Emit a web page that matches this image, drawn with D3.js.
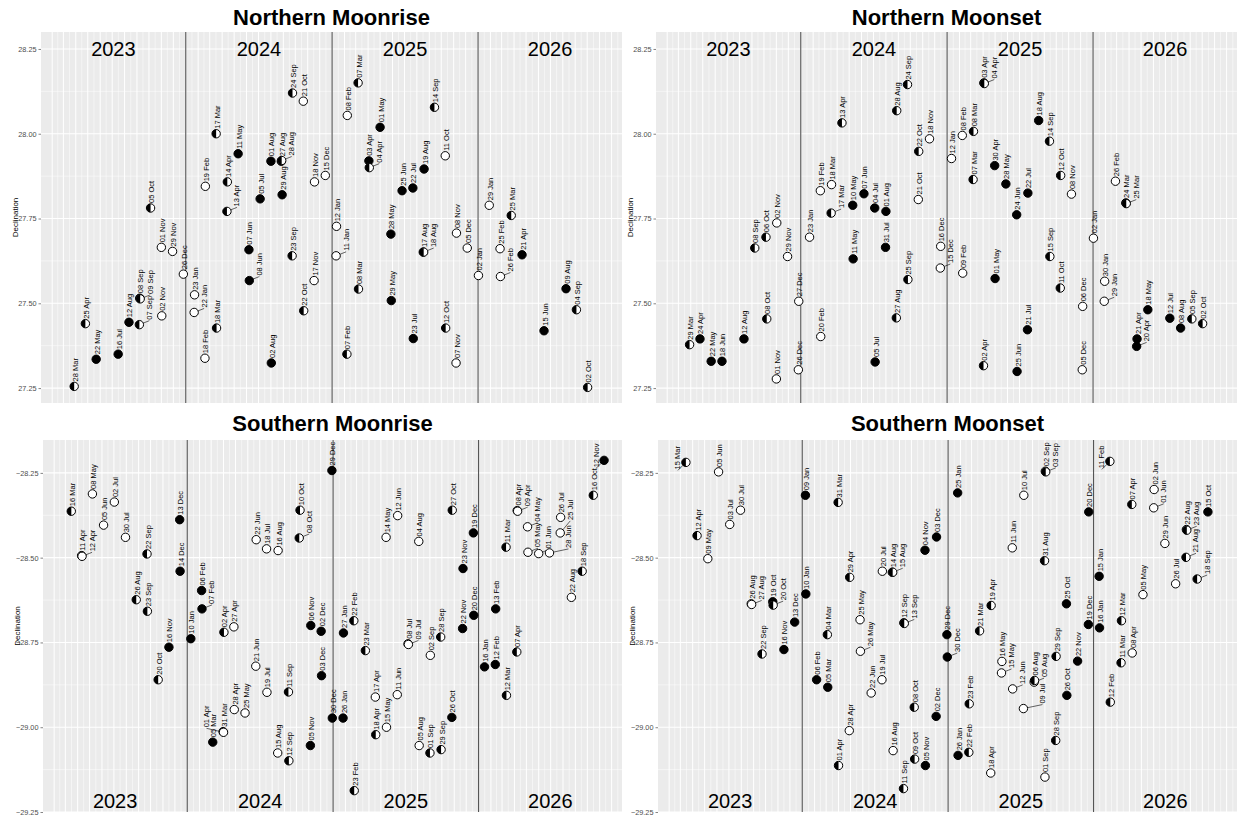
<!DOCTYPE html>
<html>
<head>
<meta charset="utf-8">
<script src="https://cdn.jsdelivr.net/npm/d3@7"></script>
<style>
body { margin: 0; background: #fff; font-family: "Liberation Sans", Arial, sans-serif; }
</style>
</head>
<body>
<svg id="chart" width="1241" height="818"></svg>
<script>
// ---- data ----
// phase codes: b = filled, w = open, h = half
var nRiseDates = ['2023-03-28','2023-04-25','2023-05-22','2023-07-16','2023-08-12','2023-09-07','2023-09-08','2023-09-09','2023-10-05','2023-11-01','2023-11-02','2023-11-29','2023-12-26',
  '2024-01-22','2024-01-23','2024-02-18','2024-02-19','2024-03-17','2024-03-18','2024-04-13','2024-04-14','2024-05-11','2024-06-07','2024-06-08','2024-07-05','2024-08-01','2024-08-02','2024-08-27','2024-08-28','2024-08-29','2024-09-23','2024-09-24','2024-10-21','2024-10-22','2024-11-17','2024-11-18','2024-12-15',
  '2025-01-11','2025-01-12','2025-02-07','2025-02-08','2025-03-07','2025-03-08','2025-04-03','2025-04-04','2025-05-01','2025-05-28','2025-05-29','2025-06-25','2025-07-22','2025-07-23','2025-08-17','2025-08-18','2025-08-19','2025-09-14','2025-10-11','2025-10-12','2025-11-07','2025-11-08','2025-12-05',
  '2026-01-02','2026-01-29','2026-02-25','2026-02-26','2026-03-25','2026-04-21','2026-06-15','2026-08-09','2026-09-04','2026-10-02'];
var nRiseDec = [27.255,27.44,27.335,27.35,27.444,27.437,27.515,27.513,27.781,27.665,27.463,27.653,27.586,
  27.473,27.525,27.338,27.845,28.00,27.427,27.771,27.858,27.941,27.658,27.567,27.808,27.919,27.324,27.919,27.921,27.82,27.64,28.12,28.096,27.478,27.567,27.858,27.877,
  27.64,27.727,27.35,28.054,28.15,27.542,27.92,27.90,28.019,27.704,27.508,27.832,27.84,27.396,27.651,27.651,27.896,28.078,27.935,27.427,27.324,27.707,27.663,
  27.582,27.789,27.661,27.579,27.759,27.643,27.419,27.543,27.481,27.252];
var nRisePhase = ['h','h','b','b','b','h','b','h','h','w','w','w','w',
  'w','w','w','w','h','h','h','h','b','b','b','b','b','b','b','h','b','h','h','w','h','w','w','w',
  'w','w','h','w','h','h','b','h','b','b','b','b','b','b','h','h','b','h','w','h','w','w','w',
  'w','w','w','w','h','b','b','b','h','h'];

var nSetDates = ['2023-03-29','2023-04-24','2023-05-22','2023-06-18','2023-08-12','2023-09-08','2023-10-06','2023-10-08','2023-11-01','2023-11-02','2023-11-29','2023-12-26','2023-12-27',
  '2024-01-23','2024-02-19','2024-02-20','2024-03-17','2024-03-18','2024-04-13','2024-05-10','2024-05-11','2024-06-07','2024-07-04','2024-07-05','2024-07-31','2024-08-01','2024-08-27','2024-08-28','2024-09-24','2024-09-25','2024-10-21','2024-10-22','2024-11-18','2024-12-15','2024-12-16',
  '2025-01-12','2025-02-08','2025-02-09','2025-03-07','2025-03-08','2025-04-02','2025-04-03','2025-04-04','2025-04-30','2025-05-01','2025-05-28','2025-06-24','2025-06-25','2025-07-21','2025-07-22','2025-08-18','2025-09-14','2025-09-15','2025-10-11','2025-10-12','2025-11-08','2025-12-05','2025-12-06',
  '2026-01-02','2026-01-29','2026-01-30','2026-02-26','2026-03-24','2026-03-25','2026-04-20','2026-04-21','2026-05-18','2026-07-12','2026-08-08','2026-09-05','2026-10-02'];
var nSetDec = [27.378,27.395,27.329,27.329,27.395,27.663,27.695,27.454,27.277,27.737,27.638,27.304,27.506,
  27.695,27.832,27.402,27.766,27.85,28.032,27.789,27.631,27.823,27.781,27.327,27.665,27.771,27.457,28.068,28.145,27.57,27.806,27.948,27.985,27.604,27.668,
  27.927,27.995,27.589,27.865,28.007,27.316,28.15,28.148,27.906,27.573,27.852,27.761,27.299,27.422,27.825,28.039,27.978,27.638,27.545,27.877,27.822,27.304,27.491,
  27.692,27.506,27.565,27.86,27.796,27.794,27.373,27.395,27.481,27.456,27.427,27.454,27.44];
var nSetPhase = ['h','b','b','b','b','h','h','h','w','w','w','w','w',
  'w','w','w','h','w','h','b','b','b','b','b','b','b','h','h','h','h','w','h','w','w','w',
  'w','w','w','h','h','h','b','h','b','b','b','b','b','b','b','b','h','h','h','h','w','w','w',
  'w','w','w','w','b','h','b','b','b','b','b','h','h'];

var sRiseDates = ['2023-03-16','2023-04-11','2023-04-12','2023-05-08','2023-06-05','2023-07-02','2023-07-30','2023-08-26','2023-09-22','2023-09-23','2023-10-20','2023-11-16','2023-12-13','2023-12-14',
  '2024-01-10','2024-02-06','2024-02-07','2024-03-05','2024-03-31','2024-04-01','2024-04-02','2024-04-27','2024-04-28','2024-05-25','2024-06-21','2024-06-22','2024-07-18','2024-07-19','2024-08-15','2024-08-16','2024-09-11','2024-09-12','2024-10-08','2024-10-10','2024-11-05','2024-11-06','2024-12-02','2024-12-03','2024-12-29','2024-12-30',
  '2025-01-26','2025-01-27','2025-02-22','2025-02-23','2025-03-23','2025-04-17','2025-04-18','2025-05-14','2025-05-15','2025-06-11','2025-06-12','2025-07-08','2025-07-09','2025-08-04','2025-08-05','2025-09-01','2025-09-02','2025-09-28','2025-09-29','2025-10-26','2025-10-27','2025-11-22','2025-11-23','2025-12-19','2025-12-20',
  '2026-01-16','2026-02-12','2026-02-13','2026-03-11','2026-03-12','2026-04-07','2026-04-08','2026-04-09','2026-05-04','2026-05-05','2026-06-01','2026-06-28','2026-07-25','2026-07-26','2026-08-22','2026-09-18','2026-10-16','2026-11-12'];
var sRiseDec = [-28.363,-28.494,-28.496,-28.312,-28.404,-28.336,-28.44,-28.624,-28.489,-28.658,-28.86,-28.764,-28.388,-28.54,
  -28.739,-28.597,-28.651,-29.044,-29.013,-29.015,-28.72,-28.704,-28.948,-28.958,-28.82,-28.447,-28.474,-28.897,-29.076,-28.479,-28.896,-29.099,-28.442,-28.36,-29.054,-28.70,-28.717,-28.848,-28.243,-28.973,
  -28.973,-28.722,-28.686,-29.187,-28.774,-28.911,-29.022,-28.44,-29.0,-28.904,-28.376,-28.754,-28.756,-28.452,-29.054,-29.076,-28.788,-28.734,-29.066,-28.971,-28.36,-28.709,-28.532,-28.427,-28.67,
  -28.822,-28.815,-28.651,-28.469,-28.906,-28.778,-28.361,-28.363,-28.409,-28.484,-28.488,-28.486,-28.427,-28.381,-28.617,-28.54,-28.316,-28.213];
var sRisePhase = ['h','h','w','w','w','w','w','h','h','h','h','b','b','b',
  'b','b','b','b','h','w','h','w','w','w','w','w','w','w','w','w','h','h','h','h','b','b','b','b','b','b',
  'b','b','h','h','h','w','h','w','w','w','w','w','w','w','w','h','w','h','h','b','h','b','b','b','b',
  'b','b','b','h','h','h','w','w','w','w','w','w','w','w','w','h','h','b'];

var sSetDates = ['2023-03-15','2023-04-12','2023-05-09','2023-06-05','2023-07-03','2023-07-30','2023-08-26','2023-08-27','2023-09-22','2023-10-19','2023-10-20','2023-11-16','2023-12-13',
  '2024-01-09','2024-01-10','2024-02-06','2024-03-04','2024-03-05','2024-03-31','2024-04-01','2024-04-28','2024-04-29','2024-05-25','2024-05-26','2024-06-22','2024-07-19','2024-07-20','2024-08-14','2024-08-15','2024-08-16','2024-09-11','2024-09-12','2024-09-13','2024-10-08','2024-10-09','2024-11-04','2024-11-05','2024-12-02','2024-12-03','2024-12-29','2024-12-30',
  '2025-01-25','2025-01-26','2025-02-22','2025-02-23','2025-03-21','2025-04-18','2025-04-19','2025-05-15','2025-05-16','2025-06-11','2025-06-12','2025-07-09','2025-07-10','2025-08-05','2025-08-06','2025-08-31','2025-09-01','2025-09-02','2025-09-03','2025-09-28','2025-09-29','2025-10-25','2025-10-26','2025-11-22','2025-12-19','2025-12-20',
  '2026-01-15','2026-01-16','2026-02-11','2026-02-12','2026-03-11','2026-03-12','2026-04-07','2026-04-08','2026-05-05','2026-06-01','2026-06-02','2026-06-29','2026-07-26','2026-08-21','2026-08-22','2026-08-23','2026-09-18','2026-10-15'];
var sSetDec = [-28.219,-28.435,-28.503,-28.247,-28.402,-28.36,-28.636,-28.638,-28.784,-28.63,-28.64,-28.771,-28.69,
  -28.316,-28.607,-28.86,-28.727,-28.882,-28.337,-29.113,-29.01,-28.558,-28.683,-28.776,-28.899,-28.86,-28.54,-28.543,-28.543,-29.069,-29.181,-28.692,-28.694,-28.941,-29.094,-28.478,-29.113,-28.968,-28.439,-28.727,-28.793,
  -28.309,-29.083,-29.074,-28.931,-28.716,-29.135,-28.641,-28.84,-28.806,-28.471,-28.887,-28.945,-28.316,-28.867,-28.862,-28.509,-29.147,-28.245,-28.247,-29.039,-28.791,-28.636,-28.906,-28.805,-28.697,-28.365,
  -28.555,-28.707,-28.216,-28.926,-28.81,-28.686,-28.343,-28.781,-28.609,-28.353,-28.299,-28.458,-28.577,-28.499,-28.417,-28.419,-28.563,-28.365];
var sSetPhase = ['h','h','w','w','w','w','w','w','h','b','h','b','b',
  'b','b','b','h','b','h','h','w','h','w','w','w','w','w','w','h','w','h','h','h','h','h','b','b','b','b','b','b',
  'b','b','h','h','h','w','h','w','w','w','w','w','w','w','h','h','w','w','h','h','h','b','b','b','b','b',
  'b','b','h','h','h','h','h','w','w','w','w','w','w','h','w','h','h','b'];

var years = [2023, 2024, 2025, 2026];
var northTicks = [27.25, 27.50, 27.75, 28.00, 28.25];
var southTicks = [-29.25, -29.00, -28.75, -28.50, -28.25];

// ---- layout ----
var svg = d3.select('#chart');
var parse = d3.timeParse('%Y-%m-%d');
var fmtLabel = d3.timeFormat('%d %b');
var xDomain = [new Date(2023, 0, 4), new Date(2026, 11, 27)];

var panels = [
  {title: 'Northern Moonrise', dates: nRiseDates, dec: nRiseDec, phase: nRisePhase, ticks: northTicks,
   x0: 41, x1: 622, y0: 32, y1: 403, yDomain: [27.206, 28.30], top: true},
  {title: 'Northern Moonset', dates: nSetDates, dec: nSetDec, phase: nSetPhase, ticks: northTicks,
   x0: 656, x1: 1237, y0: 32, y1: 403, yDomain: [27.206, 28.30], top: true},
  {title: 'Southern Moonrise', dates: sRiseDates, dec: sRiseDec, phase: sRisePhase, ticks: southTicks,
   x0: 43, x1: 622, y0: 440, y1: 812, yDomain: [-29.25, -28.153], top: false},
  {title: 'Southern Moonset', dates: sSetDates, dec: sSetDec, phase: sSetPhase, ticks: southTicks,
   x0: 658, x1: 1237, y0: 440, y1: 812, yDomain: [-29.25, -28.153], top: false}
];

var R = 4.2;

panels.forEach(function(p) {
  var x = d3.scaleTime().domain(xDomain).range([p.x0, p.x1]);
  var y = d3.scaleLinear().domain(p.yDomain).range([p.y1, p.y0]);
  var g = svg.append('g');

  // background
  g.append('rect').attr('x', p.x0).attr('y', p.y0)
    .attr('width', p.x1 - p.x0).attr('height', p.y1 - p.y0).attr('fill', '#EBEBEB');

  // grid: months (major) and mid-months (minor)
  var months = d3.timeMonth.range(xDomain[0], xDomain[1]);
  months.forEach(function(m) {
    var mid = new Date(m.getTime() + (d3.timeMonth.offset(m, 1) - m) / 2);
    [[m, 1], [mid, 0.5]].forEach(function(v) {
      var xx = x(v[0]);
      if (xx <= p.x0 || xx >= p.x1) return;
      g.append('line').attr('x1', xx).attr('x2', xx).attr('y1', p.y0).attr('y2', p.y1)
        .attr('stroke', '#fff').attr('stroke-width', v[1]);
    });
  });
  p.ticks.forEach(function(t, i) {
    g.append('line').attr('x1', p.x0).attr('x2', p.x1).attr('y1', y(t)).attr('y2', y(t))
      .attr('stroke', '#fff').attr('stroke-width', 1.1);
    if (i < p.ticks.length - 1) {
      var mt = (t + p.ticks[i + 1]) / 2;
      g.append('line').attr('x1', p.x0).attr('x2', p.x1).attr('y1', y(mt)).attr('y2', y(mt))
        .attr('stroke', '#fff').attr('stroke-width', 0.5);
    }
  });

  // y axis
  var yAxis = d3.axisLeft(y).tickValues(p.ticks).tickFormat(d3.format('.2f')).tickSize(2.5).tickPadding(2);
  var ax = g.append('g').attr('transform', 'translate(' + p.x0 + ',0)').call(yAxis);
  ax.select('.domain').remove();
  ax.selectAll('line').attr('stroke', '#333').attr('stroke-width', 0.6);
  ax.selectAll('text').attr('fill', '#4d4d4d').style('font-size', '7.3px')
    .style('font-family', '"Liberation Sans", Arial, sans-serif');

  g.append('text')
    .attr('transform', 'translate(' + (p.x0 - 26) + ',' + ((p.y0 + p.y1) / 2) + ') rotate(-90)')
    .attr('text-anchor', 'middle').attr('dominant-baseline', 'central')
    .style('font-size', '8px').attr('fill', '#000').text('Declination');

  // title
  g.append('text').attr('x', (p.x0 + p.x1) / 2).attr('y', p.top ? 25 : 431)
    .attr('text-anchor', 'middle').style('font-size', '22px').style('font-weight', 'bold')
    .text(p.title);

  // year separators and labels
  years.forEach(function(yr, i) {
    var a = x(new Date(yr, 0, 1)), b = x(new Date(yr + 1, 0, 1));
    var cx = (Math.max(a, p.x0) + Math.min(b, p.x1)) / 2;
    g.append('text').attr('x', cx).attr('y', p.top ? p.y0 + 24 : p.y1 - 4)
      .attr('text-anchor', 'middle').style('font-size', '20px').text(String(yr));
    if (i > 0) {
      g.append('line').attr('x1', a).attr('x2', a).attr('y1', p.y0).attr('y2', p.y1)
        .attr('stroke', '#555').attr('stroke-width', 1.1);
    }
  });

  // points
  var items = p.dates.map(function(d, i) {
    var dt = parse(d);
    return {date: dt, label: fmtLabel(dt), px: x(dt), py: y(p.dec[i]), phase: p.phase[i]};
  });

  // labels with a simple greedy repel
  var labG = g.append('g');
  var placed = [];
  var cands = [[0, 0], [9, 0], [-9, 0], [0, -8], [9, -8], [-9, -8], [18, 0], [-18, 0], [-9, 12], [9, 12], [-9, 22], [-18, 12]];
  function hit(a, b) { return a.x0 < b.x1 && a.x1 > b.x0 && a.y0 < b.y1 && a.y1 > b.y0; }
  items.forEach(function(d, i) {
    var t = labG.append('text').style('font-size', '7.5px').attr('dominant-baseline', 'central').text(d.label);
    var len = t.node().getComputedTextLength();
    var pick = null, rect = null;
    for (var k = 0; k < cands.length && !pick; k++) {
      var lx = d.px + 1 + cands[k][0], ly = d.py - 5 + cands[k][1];
      var r = {x0: lx - 3.6, x1: lx + 3.6, y0: ly - len, y1: ly};
      if (r.y0 < p.y0 + 1 || r.x1 > p.x1 || r.x0 < p.x0) continue;
      var bad = placed.some(function(q) { return hit(r, q); });
      if (!bad) {
        bad = items.some(function(o, j) {
          return j !== i && hit(r, {x0: o.px - R, x1: o.px + R, y0: o.py - R, y1: o.py + R});
        });
      }
      if (!bad) { pick = cands[k]; rect = r; }
    }
    if (!pick) {
      pick = [0, 0];
      var ly0 = Math.max(d.py - 5, p.y0 + 1 + len);
      rect = {x0: d.px - 2.6, x1: d.px + 4.6, y0: ly0 - len, y1: ly0};
    }
    var lx = (rect.x0 + rect.x1) / 2, ly = rect.y1;
    placed.push(rect);
    t.attr('transform', 'translate(' + lx + ',' + ly + ') rotate(-90)');
    if (pick[0] !== 0 || pick[1] !== 0) {
      labG.append('line').attr('x1', d.px).attr('y1', d.py)
        .attr('x2', lx).attr('y2', ly + 1)
        .attr('stroke', '#000').attr('stroke-width', 0.6);
    }
  });

  // markers
  var pg = g.append('g');
  items.forEach(function(d) {
    pg.append('circle').attr('cx', d.px).attr('cy', d.py).attr('r', R)
      .attr('fill', d.phase === 'b' ? '#000' : '#fff');
    if (d.phase === 'h') {
      pg.append('path')
        .attr('d', 'M' + d.px + ',' + (d.py - R) + ' A' + R + ',' + R + ' 0 0 0 ' + d.px + ',' + (d.py + R) + ' Z')
        .attr('fill', '#000');
    }
    pg.append('circle').attr('cx', d.px).attr('cy', d.py).attr('r', R)
      .attr('fill', 'none').attr('stroke', '#000').attr('stroke-width', 1);
  });
});
</script>
</body>
</html>
